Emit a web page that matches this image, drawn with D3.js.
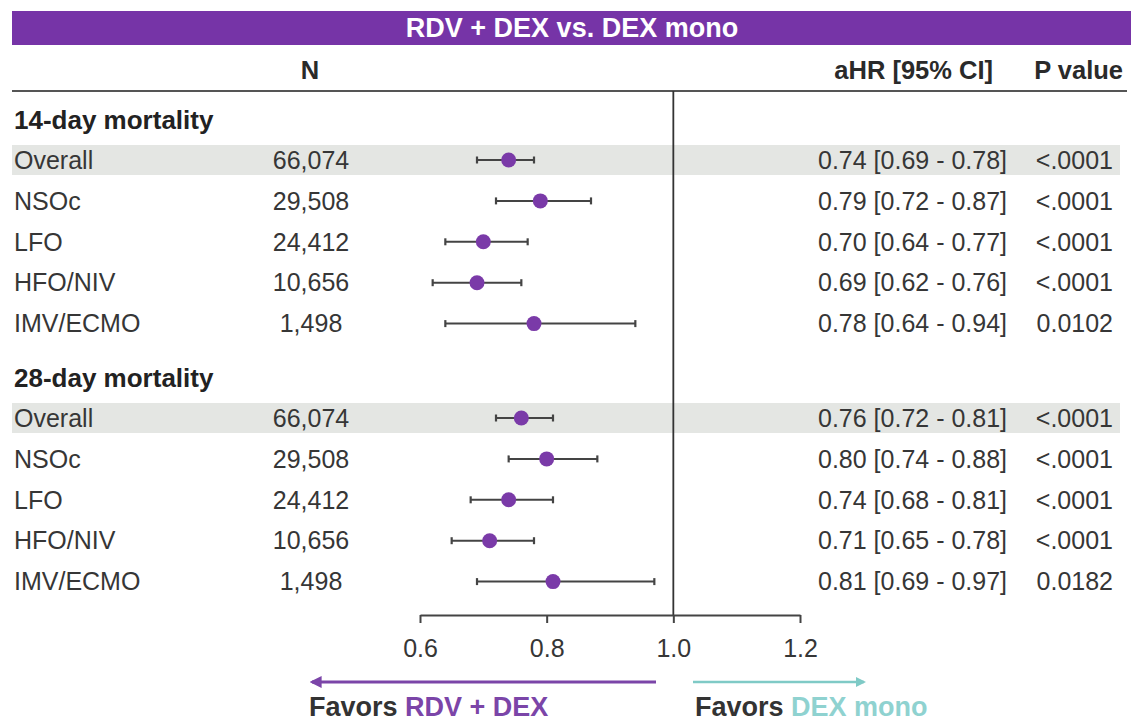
<!DOCTYPE html>
<html>
<head>
<meta charset="utf-8">
<script src="https://cdn.jsdelivr.net/npm/d3@7"></script>
<style>
  html, body { margin: 0; padding: 0; background: #fff; }
  svg { display: block; font-family: "Liberation Sans", Arial, Helvetica, sans-serif; }
</style>
</head>
<body>
<svg id="chart" width="1131" height="721"></svg>
<script>
// ---------------- DATA ----------------
const title = "RDV + DEX vs. DEX mono";
const groups = ["14-day mortality", "28-day mortality"];
const subgroups = ["Overall", "NSOc", "LFO", "HFO/NIV", "IMV/ECMO"];
const nValues = ["66,074", "29,508", "24,412", "10,656", "1,498"];
const hr14 = [0.74, 0.79, 0.70, 0.69, 0.78];
const lo14 = [0.69, 0.72, 0.64, 0.62, 0.64];
const hi14 = [0.78, 0.87, 0.77, 0.76, 0.94];
const p14 = ["<.0001", "<.0001", "<.0001", "<.0001", "0.0102"];
const hr28 = [0.76, 0.80, 0.74, 0.71, 0.81];
const lo28 = [0.72, 0.74, 0.68, 0.65, 0.69];
const hi28 = [0.81, 0.88, 0.81, 0.78, 0.97];
const p28 = ["<.0001", "<.0001", "<.0001", "<.0001", "0.0182"];
const tickValues = [0.6, 0.8, 1.0, 1.2];
const tickLabels = ["0.6", "0.8", "1.0", "1.2"];

// ---------------- BUILD ROWS ----------------
const series = [
  { hr: hr14, lo: lo14, hi: hi14, p: p14 },
  { hr: hr28, lo: lo28, hi: hi28, p: p28 }
];
const rows = [];
series.forEach((s, g) => {
  subgroups.forEach((name, i) => {
    rows.push({ g, i, name, n: nValues[i], hr: s.hr[i], lo: s.lo[i], hi: s.hi[i], p: s.p[i] });
  });
});
const fmt = d3.format(".2f");

// ---------------- LAYOUT ----------------
const W = 1131;
const purple = "#7634a7";
const dot = "#7a3aa8";
const teal = "#7fcac6";
const textCol = "#363636";
const rowY = (g, i) => 160 + g * 258 + i * 40.9;
const headerY = g => rowY(g, 0) - 40;

const x = d3.scaleLinear().domain([0.6, 1.2]).range([420, 800]);
const axisY = 615;

const svg = d3.select("#chart");

// Title bar
svg.append("rect").attr("x", 12).attr("y", 11).attr("width", W - 12).attr("height", 34).attr("fill", purple);
svg.append("text").attr("x", 572).attr("y", 28).attr("dy", "0.35em")
  .attr("text-anchor", "middle").attr("fill", "#fff")
  .attr("font-size", 27).attr("font-weight", "bold").text(title);

// Column headers
const hdr = svg.append("g").attr("font-weight", "bold").attr("font-size", 25.5).attr("fill", "#2a2a2a");
hdr.append("text").attr("x", 310).attr("y", 70).attr("dy", "0.35em").attr("text-anchor", "middle").text("N");
hdr.append("text").attr("x", 993).attr("y", 70).attr("dy", "0.35em").attr("text-anchor", "end").text("aHR [95% CI]");
hdr.append("text").attr("x", 1123).attr("y", 70).attr("dy", "0.35em").attr("text-anchor", "end").text("P value");
svg.append("line").attr("x1", 12).attr("x2", 1127).attr("y1", 91).attr("y2", 91)
  .attr("stroke", "#555").attr("stroke-width", 2);

// Shaded bands for Overall rows
svg.selectAll("rect.band").data(rows.filter(r => r.i === 0)).join("rect")
  .attr("class", "band")
  .attr("x", 12).attr("width", 1120 - 12)
  .attr("y", d => rowY(d.g, d.i) - 15).attr("height", 30)
  .attr("fill", "#e4e6e3");

// Group headers
svg.selectAll("text.grp").data(groups).join("text")
  .attr("class", "grp")
  .attr("x", 14).attr("y", (d, g) => headerY(g)).attr("dy", "0.35em")
  .attr("font-size", 26).attr("font-weight", "bold").attr("fill", "#222")
  .text(d => d);

// Reference line at 1.0
svg.append("line").attr("x1", x(1)).attr("x2", x(1)).attr("y1", 91).attr("y2", axisY)
  .attr("stroke", "#333").attr("stroke-width", 1.8);

// Row texts
const rowG = svg.append("g").attr("font-size", 25).attr("fill", textCol);
rowG.selectAll("text.lab").data(rows).join("text")
  .attr("x", 14).attr("y", d => rowY(d.g, d.i)).attr("dy", "0.35em").text(d => d.name);
rowG.selectAll("text.n").data(rows).join("text")
  .attr("x", 311).attr("y", d => rowY(d.g, d.i)).attr("dy", "0.35em")
  .attr("text-anchor", "middle").text(d => d.n);
rowG.selectAll("text.ci").data(rows).join("text")
  .attr("x", 818).attr("y", d => rowY(d.g, d.i)).attr("dy", "0.35em")
  .text(d => `${fmt(d.hr)} [${fmt(d.lo)} - ${fmt(d.hi)}]`);
rowG.selectAll("text.p").data(rows).join("text")
  .attr("x", 1113).attr("y", d => rowY(d.g, d.i)).attr("dy", "0.35em")
  .attr("text-anchor", "end").text(d => d.p);

// CI lines, caps, points
const ci = svg.append("g");
ci.selectAll("line.ci").data(rows).join("line")
  .attr("x1", d => x(d.lo)).attr("x2", d => x(d.hi))
  .attr("y1", d => rowY(d.g, d.i)).attr("y2", d => rowY(d.g, d.i))
  .attr("stroke", "#444").attr("stroke-width", 2);
["lo", "hi"].forEach(k => {
  ci.selectAll("line.cap" + k).data(rows).join("line")
    .attr("x1", d => x(d[k])).attr("x2", d => x(d[k]))
    .attr("y1", d => rowY(d.g, d.i) - 3.5).attr("y2", d => rowY(d.g, d.i) + 3.5)
    .attr("stroke", "#444").attr("stroke-width", 2.2);
});
ci.selectAll("circle").data(rows).join("circle")
  .attr("cx", d => x(d.hr)).attr("cy", d => rowY(d.g, d.i)).attr("r", 7.5)
  .attr("fill", dot);

// Axis
const axis = d3.axisBottom(x).tickValues(tickValues)
  .tickFormat((d, i) => tickLabels[i]).tickSize(8).tickSizeOuter(0).tickPadding(16);
const ax = svg.append("g").attr("transform", `translate(0,${axisY})`).call(axis);
ax.select(".domain").attr("stroke", "#444").attr("stroke-width", 2);
ax.selectAll(".tick line").attr("stroke", "#444").attr("stroke-width", 2);
ax.selectAll(".tick text").attr("font-size", 25).attr("fill", textCol)
  .attr("font-family", "Liberation Sans, Arial, sans-serif");

// Direction arrows
const defs = svg.append("defs");
function marker(id, color) {
  defs.append("marker").attr("id", id).attr("viewBox", "0 0 10 10")
    .attr("refX", 8).attr("refY", 5).attr("markerWidth", 4).attr("markerHeight", 4)
    .attr("orient", "auto-start-reverse")
    .append("path").attr("d", "M0,0 L10,5 L0,10 z").attr("fill", color);
}
marker("arrP", "#7b45a8");
marker("arrT", teal);
svg.append("line").attr("x1", 656).attr("x2", 312).attr("y1", 682).attr("y2", 682)
  .attr("stroke", "#7b45a8").attr("stroke-width", 3).attr("marker-end", "url(#arrP)");
svg.append("line").attr("x1", 693).attr("x2", 864).attr("y1", 682).attr("y2", 682)
  .attr("stroke", teal).attr("stroke-width", 2.5).attr("marker-end", "url(#arrT)");

const fav1 = svg.append("text").attr("x", 309).attr("y", 707).attr("dy", "0.35em")
  .attr("font-size", 27).attr("font-weight", "bold").attr("fill", "#333");
fav1.append("tspan").text("Favors ");
fav1.append("tspan").attr("fill", "#7b45a8").text("RDV + DEX");
const fav2 = svg.append("text").attr("x", 695).attr("y", 707).attr("dy", "0.35em")
  .attr("font-size", 27).attr("font-weight", "bold").attr("fill", "#333");
fav2.append("tspan").text("Favors ");
fav2.append("tspan").attr("fill", "#8fd2d0").text("DEX mono");
</script>
</body>
</html>
